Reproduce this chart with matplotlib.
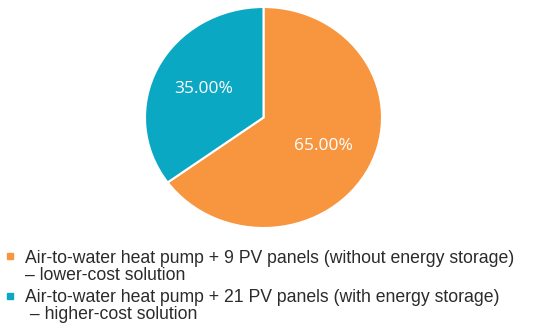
import matplotlib
matplotlib.use("Agg")
import matplotlib.pyplot as plt
from matplotlib.patches import Rectangle

# data
shares = [65.0, 35.0]
colors = ["#F7963F", "#0BA8C4"]
labels = [
    ("Air-to-water heat pump + 9 PV panels (without energy storage)", "– lower-cost solution"),
    ("Air-to-water heat pump + 21 PV panels (with energy storage)", " – higher-cost solution"),
]

W, H, DPI = 550, 334, 100
fig = plt.figure(figsize=(W / DPI, H / DPI), dpi=DPI)
fig.patch.set_facecolor("white")

# pie box in pixel coords -> figure fraction
px_l, px_t, px_r, px_b = 145, 7, 382, 228
ax = fig.add_axes([px_l / W, 1 - px_b / H, (px_r - px_l) / W, (px_b - px_t) / H])
wedges, texts, autotexts = ax.pie(
    shares, colors=colors, startangle=90, counterclock=False,
    autopct="%.2f%%", pctdistance=0.57,
    wedgeprops={"edgecolor": "white", "linewidth": 1.5},
    textprops={"color": "white", "fontsize": 12.5, "family": "Open Sans"},
)
ax.set_xlim(-1, 1)
ax.set_ylim(-1, 1)
ax.set_aspect("auto")
ax.axis("off")

# legend drawn by hand: square + two-line label (baselines in px)
square_y = [253, 293]
baselines = [(263, 280), (302, 319)]
for (l1, l2), col, sy, (b1, b2) in zip(labels, colors, square_y, baselines):
    fig.patches.append(Rectangle((7 / W, 1 - (sy + 6) / H), 6 / W, 6 / H,
                                 transform=fig.transFigure, color=col, figure=fig))
    for txt, b in ((l1, b1), (l2, b2)):
        fig.text(25 / W, 1 - b / H, txt, ha="left", va="baseline", fontsize=12.7,
                 family="Liberation Sans", color="#2b2b2b")

fig.savefig("out.png", dpi=DPI, facecolor="white")
